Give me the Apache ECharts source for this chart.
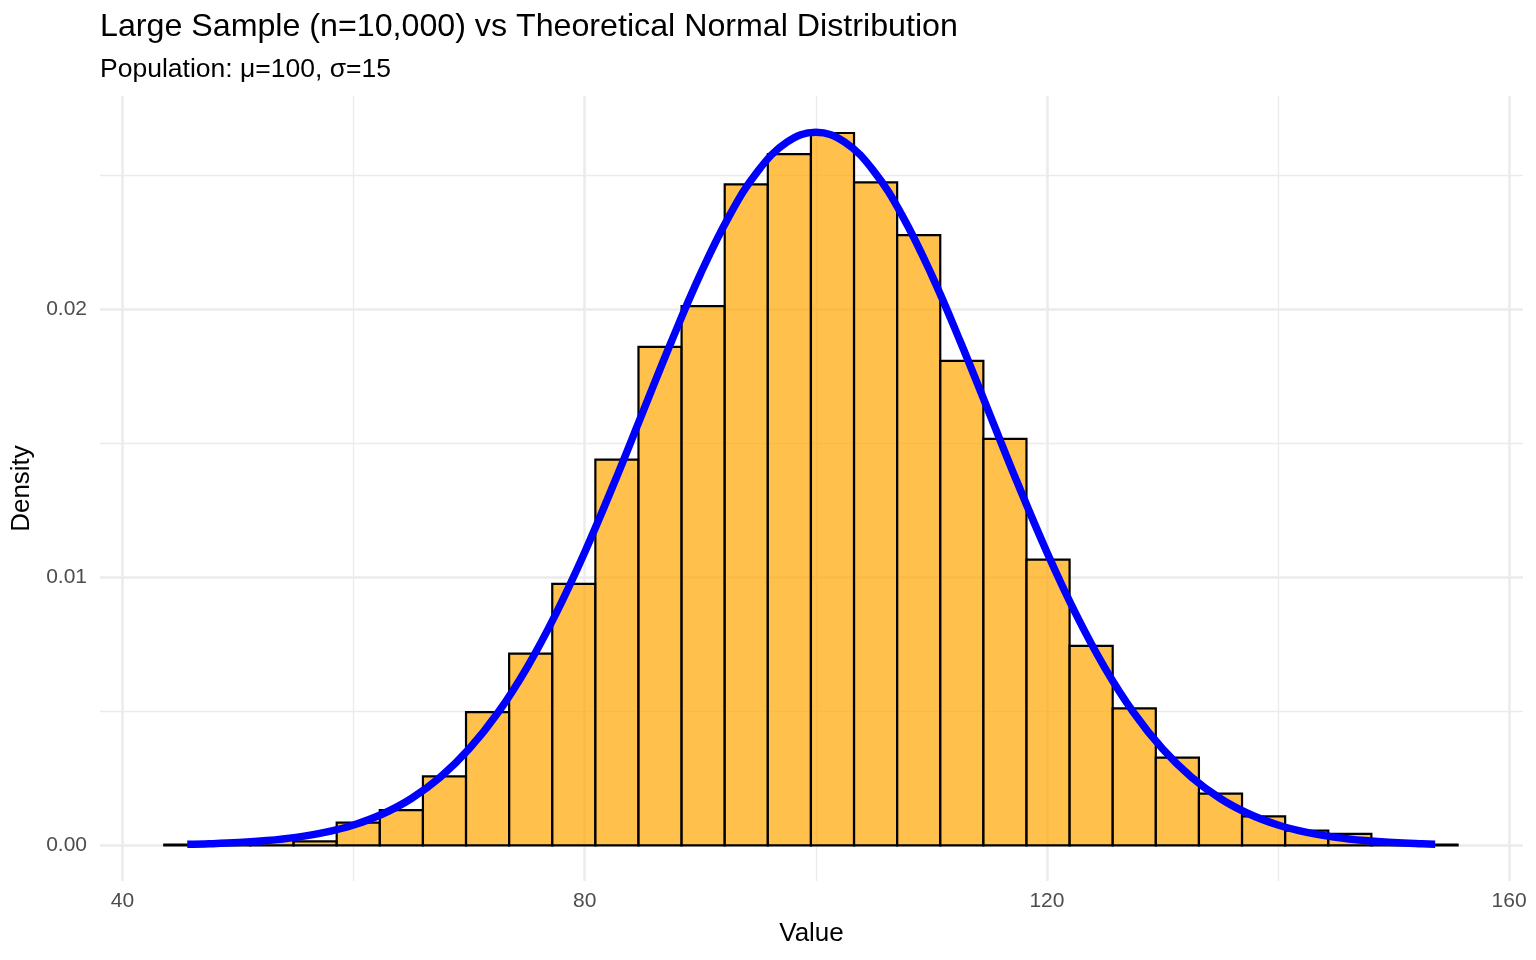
<!DOCTYPE html>
<html>
<head>
<meta charset="utf-8">
<title>Large Sample vs Theoretical Normal</title>
<script src="https://cdn.jsdelivr.net/npm/echarts@6/dist/echarts.min.js"></script>
<style>
  html, body { margin: 0; padding: 0; background: #fff; }
  #main { width: 1536px; height: 960px; }
</style>
</head>
<body>
<div id="main"></div>
<script>
// histogram: 30 bins, density per bin
var binStart = 43.61;
var binWidth = 3.731;
var density = [
    0.00003, 0.00003, 0.0002, 0.00015, 0.00085, 0.00131, 0.00257, 0.00497, 0.00715, 0.00975,
    0.01439, 0.01859, 0.02011, 0.02465, 0.02578, 0.02657, 0.02473, 0.02276, 0.01807, 0.01516,
    0.01066, 0.00744, 0.00511, 0.00327, 0.00193, 0.00108, 0.00055, 0.00043, 0.00011, 0.00003
];

// theoretical curve
var curveX = [45.6, 47.5, 50, 52.5, 55, 57.5, 60, 62.5, 65, 67.5, 70, 72.5, 75, 77.5, 80, 82.5,
    85, 87.5, 90, 92.5, 95, 97.5, 100, 102.5, 105, 107.5, 110, 112.5, 115, 117.5, 120, 122.5,
    125, 127.5, 130, 132.5, 135, 137.5, 140, 142.5, 145, 147.5, 150, 152.5, 153.6];
var curveY = [0.000037, 0.000058, 0.000103, 0.000177, 0.000296, 0.000481, 0.000760, 0.001169,
    0.001748, 0.002543, 0.003599, 0.004954, 0.006632, 0.008635, 0.010934, 0.013467, 0.016131,
    0.018794, 0.021297, 0.023471, 0.025159, 0.026229, 0.026596, 0.026229, 0.025159, 0.023471,
    0.021297, 0.018794, 0.016131, 0.013467, 0.010934, 0.008635, 0.006632, 0.004954, 0.003599,
    0.002543, 0.001748, 0.001169, 0.000760, 0.000481, 0.000296, 0.000177, 0.000103, 0.000058,
    0.000045];

var xMajorTicks = [40, 80, 120, 160];
var xMinorTicks = [60, 100, 140];
var yMajorTicks = [0, 0.01, 0.02];
var yMinorTicks = [0.005, 0.015, 0.025];

var xMin = 38.05, xMax = 161.2;
var yMin = -0.00133, yMax = 0.02795;

var fontName = 'Liberation Sans';

var barData = density.map(function (d, i) {
    return [binStart + i * binWidth, binStart + (i + 1) * binWidth, d];
});
var curveData = curveX.map(function (x, i) { return [x, curveY[i]]; });

function renderBar(params, api) {
    var p0 = api.coord([api.value(0), api.value(2)]);
    var p1 = api.coord([api.value(1), 0]);
    return {
        type: 'rect',
        shape: { x: p0[0], y: p0[1], width: p1[0] - p0[0], height: p1[1] - p0[1] },
        style: { fill: 'rgba(255,165,0,0.7)', stroke: '#000', lineWidth: 2.2 }
    };
}

var chart = echarts.init(document.getElementById('main'));

var option = {
    backgroundColor: '#fff',
    animation: false,
    title: [{
        text: 'Large Sample (n=10,000) vs Theoretical Normal Distribution',
        left: 100,
        top: 11,
        padding: 0,
        textStyle: { fontFamily: fontName, fontSize: 32.2, fontWeight: 'normal', color: '#000' }
    }, {
        text: 'Population: μ=100, σ=15',
        left: 100,
        top: 56,
        padding: 0,
        textStyle: { fontFamily: fontName, fontSize: 26.5, fontWeight: 'normal', color: '#000' }
    }],
    grid: { left: 100, right: 13, top: 96, bottom: 79 },
    xAxis: [{
        type: 'value',
        min: xMin,
        max: xMax,
        name: 'Value',
        nameLocation: 'middle',
        nameGap: 40,
        nameTextStyle: { fontFamily: fontName, fontSize: 26, color: '#000' },
        axisLine: { show: false },
        axisTick: { show: false, customValues: xMajorTicks },
        axisLabel: {
            customValues: xMajorTicks,
            margin: 10,
            fontFamily: fontName, fontSize: 21, color: '#4d4d4d'
        },
        splitLine: { show: true, lineStyle: { color: '#ebebeb', width: 2.5 } }
    }, {
        type: 'value',
        min: xMin,
        max: xMax,
        position: 'bottom',
        axisLine: { show: false },
        axisTick: { show: false, customValues: xMinorTicks },
        axisLabel: { show: false, customValues: xMinorTicks },
        splitLine: { show: true, lineStyle: { color: '#ebebeb', width: 1.3 } }
    }],
    yAxis: [{
        type: 'value',
        min: yMin,
        max: yMax,
        name: 'Density',
        nameLocation: 'middle',
        nameGap: 55,
        nameTextStyle: { fontFamily: fontName, fontSize: 26, color: '#000' },
        axisLine: { show: false },
        axisTick: { show: false, customValues: yMajorTicks },
        axisLabel: {
            customValues: yMajorTicks,
            margin: 13,
            fontFamily: fontName, fontSize: 21, color: '#4d4d4d',
            formatter: function (v) { return v.toFixed(2); }
        },
        splitLine: { show: true, lineStyle: { color: '#ebebeb', width: 2.5 } }
    }, {
        type: 'value',
        min: yMin,
        max: yMax,
        position: 'left',
        axisLine: { show: false },
        axisTick: { show: false, customValues: yMinorTicks },
        axisLabel: { show: false, customValues: yMinorTicks },
        splitLine: { show: true, lineStyle: { color: '#ebebeb', width: 1.3 } }
    }],
    series: [{
        type: 'custom',
        name: 'histogram',
        xAxisIndex: 0,
        yAxisIndex: 0,
        renderItem: renderBar,
        encode: { x: [0, 1], y: 2 },
        data: barData,
        z: 2
    }, {
        type: 'line',
        name: 'normal',
        xAxisIndex: 0,
        yAxisIndex: 0,
        data: curveData,
        smooth: 0.4,
        showSymbol: false,
        lineStyle: { color: '#0000ff', width: 7.5 },
        z: 3
    }]
};

chart.setOption(option);
</script>
</body>
</html>
